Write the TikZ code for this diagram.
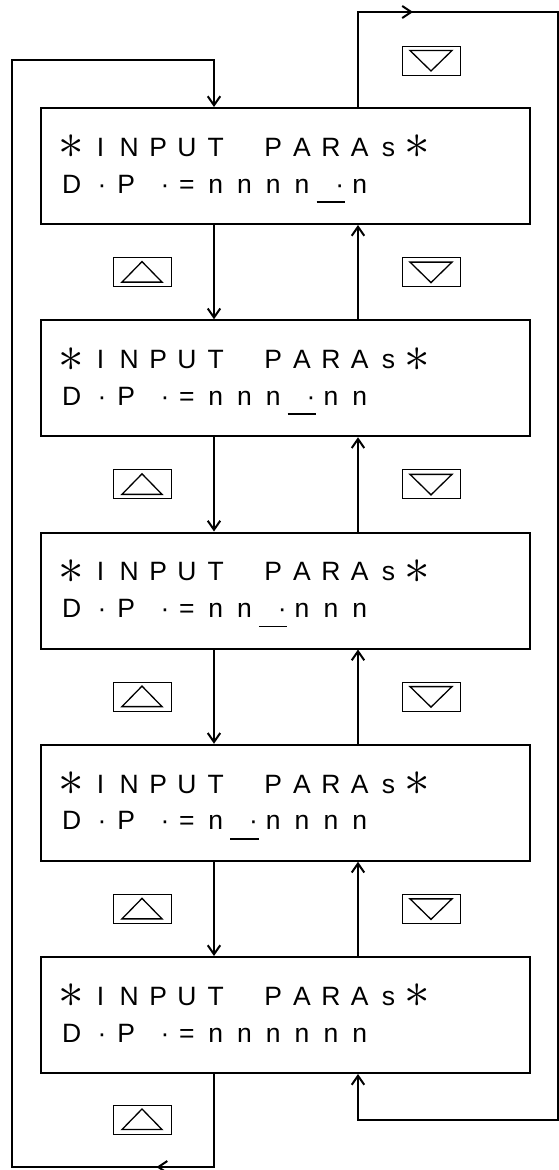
\documentclass[tikz,border=0pt]{standalone}
\usepackage{fontspec}
\setmainfont{Liberation Sans}
\usetikzlibrary{arrows.meta,decorations.markings}
\newcommand\lcdc[2][0pt]{\makebox[28.8pt]{\hspace*{#1}\makebox[0pt]{#2}}}
\newcommand\lcdsp{\makebox[28.8pt]{}}
\newcommand\lcddot[1][0pt]{\lcdc[#1]{·}}
\newcommand\lcdast{\lcdc{\raisebox{-2.5pt}{\scalebox{2.05}{$\ast$}}}}
\newcommand\lcdcur{\rlap{\rule[-9.8pt]{28.5pt}{1.6pt}}\lcddot[18pt]}
\newcommand\lcdn{\lcdc{n}}
\newcommand\lcdtop{\lcdast\lcdc{I}\lcdc{N}\lcdc{P}\lcdc{U}\lcdc{T}\lcdsp\lcdc{P}\lcdc{A}\lcdc{R}\lcdc{A}\lcdc{s}\lcdast}
\newcommand\lcdhead{\lcdc{D}\lcddot[3pt]\lcdc[-6pt]{P}\lcddot[14pt]\lcdc{=}}
\begin{document}
\begin{tikzpicture}[x=1pt,y=-1pt,
  line/.style={line width=2pt},
  tip/.style={-{Straight Barb[length=9pt,width=12.5pt]}},
  screen/.style={draw,line width=2pt,minimum width=489.5pt,minimum height=116pt,inner sep=0pt},
  lcd/.style={anchor=base west,inner sep=0pt,font=\fontsize{26.5}{30}\selectfont},
  keybox/.style={draw,line width=0.9pt,minimum width=58pt,minimum height=29pt,inner sep=0pt},
  tri/.style={line width=1.3pt,line join=miter},
  midtip/.style={postaction={decorate},decoration={markings,mark=at position #1 with {\arrow[line width=2pt]{Straight Barb[length=9pt,width=12pt]}}}}
]
\useasboundingbox (0,0) rectangle (559,1170);
% screens
\node[screen] (b1) at (285.25,166) {};
\node[screen] (b2) at (285.25,378.25) {};
\node[screen] (b3) at (285.25,590.5) {};
\node[screen] (b4) at (285.25,802.75) {};
\node[screen] (b5) at (285.25,1015) {};
% texts
\node[lcd] (t1a) at (57.1,156.3) {\lcdtop};
\node[lcd] (t1b) at (57.1,193) {\lcdhead\lcdn\lcdn\lcdn\lcdn\lcdcur\lcdn};
\node[lcd] (t2a) at (57.1,368.55) {\lcdtop};
\node[lcd] (t2b) at (57.1,405.25) {\lcdhead\lcdn\lcdn\lcdn\lcdcur\lcdn\lcdn};
\node[lcd] (t3a) at (57.1,580.8) {\lcdtop};
\node[lcd] (t3b) at (57.1,617.5) {\lcdhead\lcdn\lcdn\lcdcur\lcdn\lcdn\lcdn};
\node[lcd] (t4a) at (57.1,793.05) {\lcdtop};
\node[lcd] (t4b) at (57.1,829.75) {\lcdhead\lcdn\lcdcur\lcdn\lcdn\lcdn\lcdn};
\node[lcd] (t5a) at (57.1,1005.3) {\lcdtop};
\node[lcd] (t5b) at (57.1,1042) {\lcdhead\lcdn\lcdn\lcdn\lcdn\lcdn\lcdn};
% guide coordinates
\coordinate (dl) at (214,0);
\coordinate (ul) at (358,0);
\coordinate (L) at (12,0);
\coordinate (R) at (557.5,0);
\coordinate (Top) at (0,12);
\coordinate (TL) at (0,60);
\coordinate (BR) at (0,1120);
\coordinate (Btm) at (0,1167);
% vertical connectors
\foreach \a/\b in {b1/b2,b2/b3,b3/b4,b4/b5}{
  \draw[line,tip] (\a.south -| dl) -- (\b.north -| dl);
  \draw[line,tip] (\b.north -| ul) -- (\a.south -| ul);
}
% outer loops
\draw[line,tip,midtip=150.5pt] (b5.south -| dl) -- (dl |- Btm) -- (L |- Btm) -- (L |- TL) -- (dl |- TL) -- (b1.north -| dl);
\draw[line,tip,midtip=150pt] (b1.north -| ul) -- (ul |- Top) -- (R |- Top) -- (R |- BR) -- (ul |- BR) -- (b5.south -| ul);
% key labels
\foreach \n/\y in {1/272.1,2/484.35,3/696.6,4/908.85,5/1119.5}{
  \node[keybox] (up\n) at (142,\y) {};
  \draw[tri] ([shift={(-20,10)}]up\n.center) -- ([shift={(20,10)}]up\n.center) -- ([shift={(0,-10.5)}]up\n.center) -- cycle;
}
\foreach \n/\y in {0/60.5,1/272.1,2/484.35,3/696.6,4/908.85}{
  \node[keybox] (dn\n) at (431,\y) {};
  \draw[tri] ([shift={(-21,-10)}]dn\n.center) -- ([shift={(21,-10)}]dn\n.center) -- ([shift={(0,10.5)}]dn\n.center) -- cycle;
}
\end{tikzpicture}
\end{document}
